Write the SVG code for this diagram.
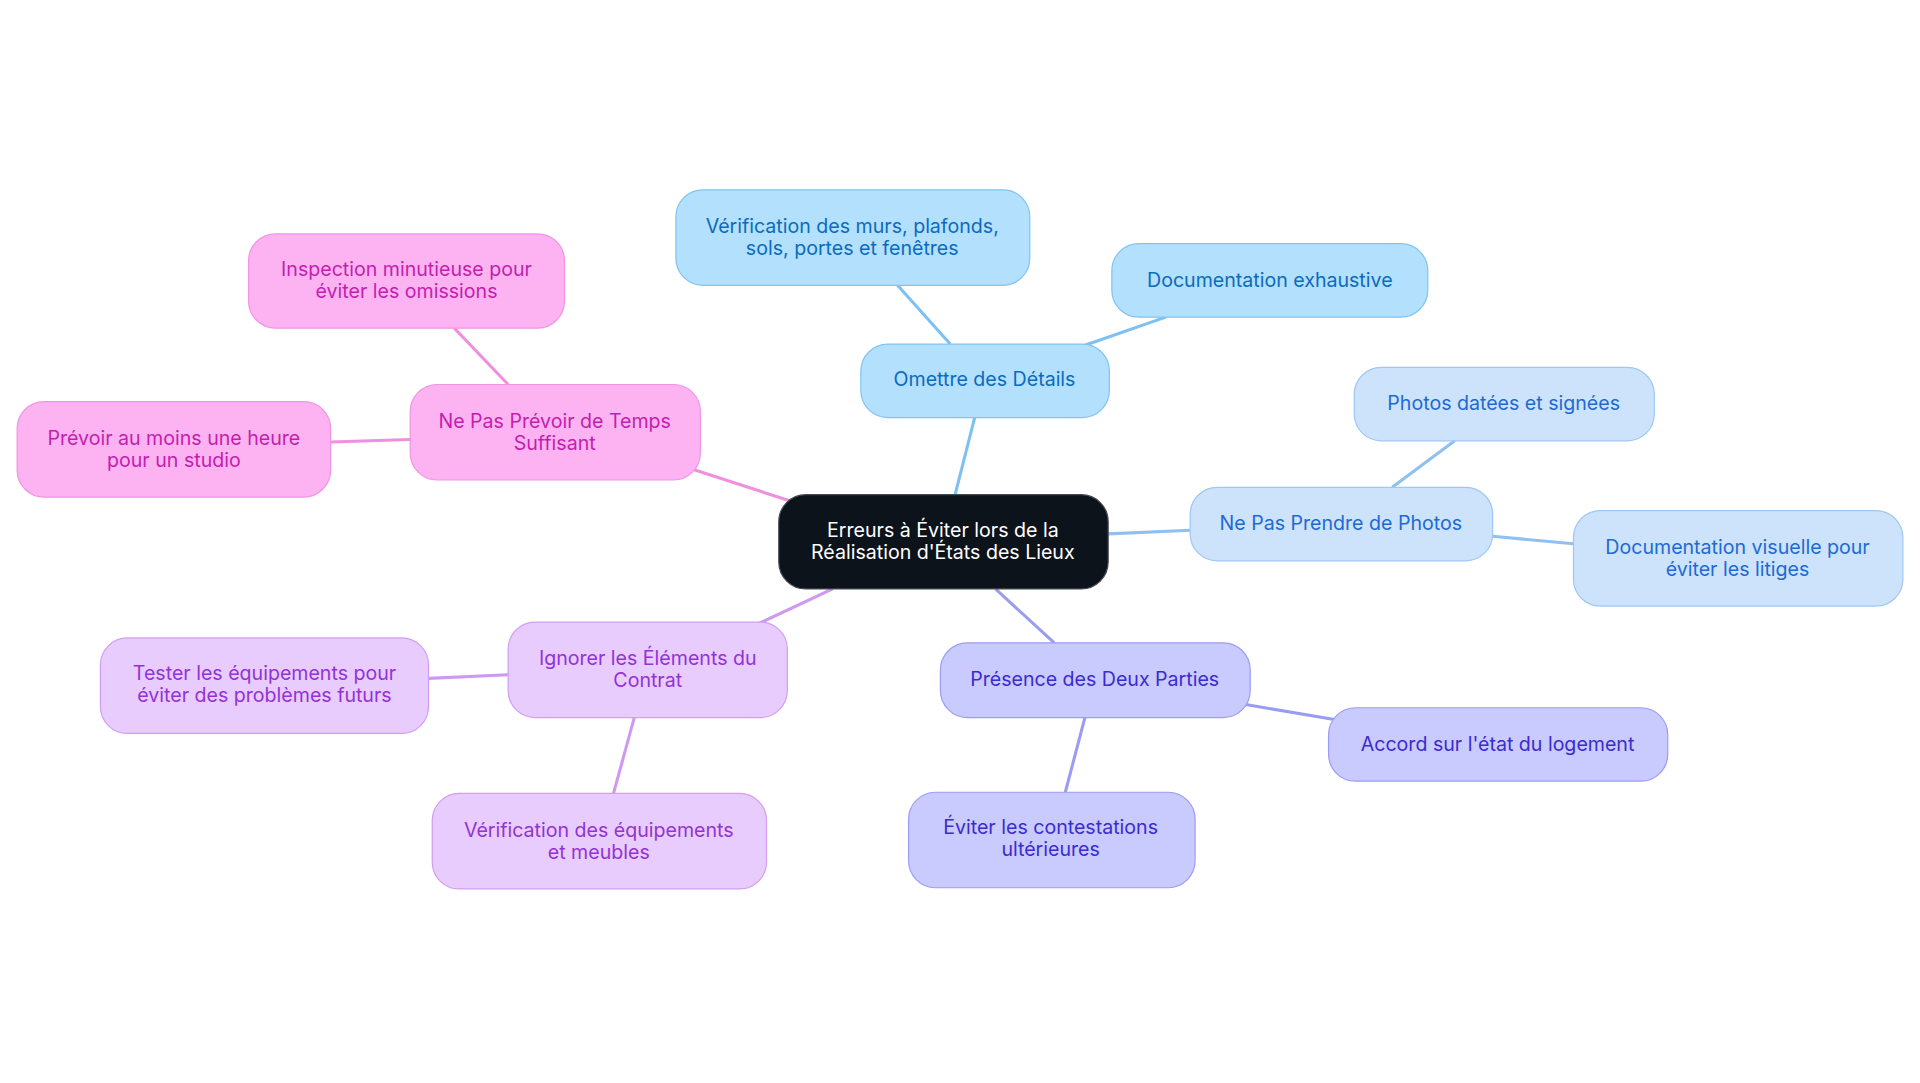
<svg xmlns="http://www.w3.org/2000/svg" width="1920" height="1083" viewBox="0 0 1920 1083">
<style>
text{font-family:Inter,"Liberation Sans",sans-serif;font-size:16px;text-anchor:middle;dominant-baseline:central}
.c1 rect{fill:#b3e0fd;stroke:#80c4f2}.c1 text{fill:#0b6bbd}
.c2 rect{fill:#cce3fb;stroke:#9ec8f3}.c2 text{fill:#1e6ad3}
.c3 rect{fill:#c9cafd;stroke:#9c9df5}.c3 text{fill:#3b2ccf}
.c4 rect{fill:#e8ccfd;stroke:#d19ef6}.c4 text{fill:#9332d6}
.c5 rect{fill:#fdb3f1;stroke:#f095e3}.c5 text{fill:#c41eaf}
.root rect{fill:#0d131b;stroke:#444a52}.root text{fill:#ffffff}
rect{stroke-width:1}
#connectors line{stroke-width:2.5;fill:none}
</style>
<rect width="1920" height="1083" fill="#ffffff"/>
<g transform="scale(1.22449)">
<g id="connectors">
<line x1="780" y1="404" x2="796" y2="341" stroke="#7cc1f2"/>
<line x1="776" y1="281" x2="733" y2="233" stroke="#7cc1f2"/>
<line x1="886" y1="282" x2="952" y2="259" stroke="#7cc1f2"/>
<line x1="905" y1="436" x2="972" y2="433" stroke="#90c0f0"/>
<line x1="1137" y1="398" x2="1188" y2="360" stroke="#90c0f0"/>
<line x1="1219" y1="438" x2="1285" y2="444" stroke="#90c0f0"/>
<line x1="813" y1="481" x2="861" y2="525" stroke="#9a9cf2"/>
<line x1="1015" y1="575" x2="1092" y2="588" stroke="#9a9cf2"/>
<line x1="886" y1="586" x2="870" y2="647" stroke="#9a9cf2"/>
<line x1="680" y1="481" x2="620" y2="509" stroke="#cf99f2"/>
<line x1="415" y1="551" x2="350" y2="554" stroke="#cf99f2"/>
<line x1="518" y1="586" x2="501" y2="648" stroke="#cf99f2"/>
<line x1="648" y1="410" x2="565" y2="383" stroke="#ef90df"/>
<line x1="415" y1="314" x2="371" y2="268" stroke="#ef90df"/>
<line x1="335" y1="359" x2="270" y2="361" stroke="#ef90df"/>
</g>
<g id="root" class="root"><rect x="636" y="404" width="269" height="77" rx="22"/><text x="770" y="432.5">Erreurs à Éviter lors de la</text><text x="770" y="450.5">Réalisation d'États des Lieux</text></g>
<g id="omettre" class="c1"><rect x="703" y="281" width="203" height="60" rx="22"/><text x="804" y="309.5">Omettre des Détails</text></g>
<g id="verif-murs" class="c1"><rect x="552" y="155" width="289" height="78" rx="22"/><text x="696" y="184.5">Vérification des murs, plafonds,</text><text x="696" y="202.5">sols, portes et fenêtres</text></g>
<g id="doc-exhaustive" class="c1"><rect x="908" y="199" width="258" height="60" rx="22"/><text x="1037" y="228.5">Documentation exhaustive</text></g>
<g id="photos" class="c2"><rect x="972" y="398" width="247" height="60" rx="22"/><text x="1095" y="427.5">Ne Pas Prendre de Photos</text></g>
<g id="photos-datees" class="c2"><rect x="1106" y="300" width="245" height="60" rx="22"/><text x="1228" y="329.5">Photos datées et signées</text></g>
<g id="doc-visuelle" class="c2"><rect x="1285" y="417" width="269" height="78" rx="22"/><text x="1419" y="446.5">Documentation visuelle pour</text><text x="1419" y="464.5">éviter les litiges</text></g>
<g id="presence" class="c3"><rect x="768" y="525" width="253" height="61" rx="22"/><text x="894" y="554.5">Présence des Deux Parties</text></g>
<g id="accord" class="c3"><rect x="1085" y="578" width="277" height="60" rx="22"/><text x="1223" y="607.5">Accord sur l'état du logement</text></g>
<g id="eviter-contest" class="c3"><rect x="742" y="647" width="234" height="78" rx="22"/><text x="858" y="675.5">Éviter les contestations</text><text x="858" y="693.5">ultérieures</text></g>
<g id="ignorer" class="c4"><rect x="415" y="508" width="228" height="78" rx="22"/><text x="529" y="537.5">Ignorer les Éléments du</text><text x="529" y="555.5">Contrat</text></g>
<g id="tester" class="c4"><rect x="82" y="521" width="268" height="78" rx="22"/><text x="216" y="549.5">Tester les équipements pour</text><text x="216" y="567.5">éviter des problèmes futurs</text></g>
<g id="verif-equip" class="c4"><rect x="353" y="648" width="273" height="78" rx="22"/><text x="489" y="677.5">Vérification des équipements</text><text x="489" y="695.5">et meubles</text></g>
<g id="temps" class="c5"><rect x="335" y="314" width="237" height="78" rx="22"/><text x="453" y="343.5">Ne Pas Prévoir de Temps</text><text x="453" y="361.5">Suffisant</text></g>
<g id="inspection" class="c5"><rect x="203" y="191" width="258" height="77" rx="22"/><text x="332" y="219.5">Inspection minutieuse pour</text><text x="332" y="237.5">éviter les omissions</text></g>
<g id="prevoir" class="c5"><rect x="14" y="328" width="256" height="78" rx="22"/><text x="142" y="357.5">Prévoir au moins une heure</text><text x="142" y="375.5">pour un studio</text></g>
</g>
</svg>
